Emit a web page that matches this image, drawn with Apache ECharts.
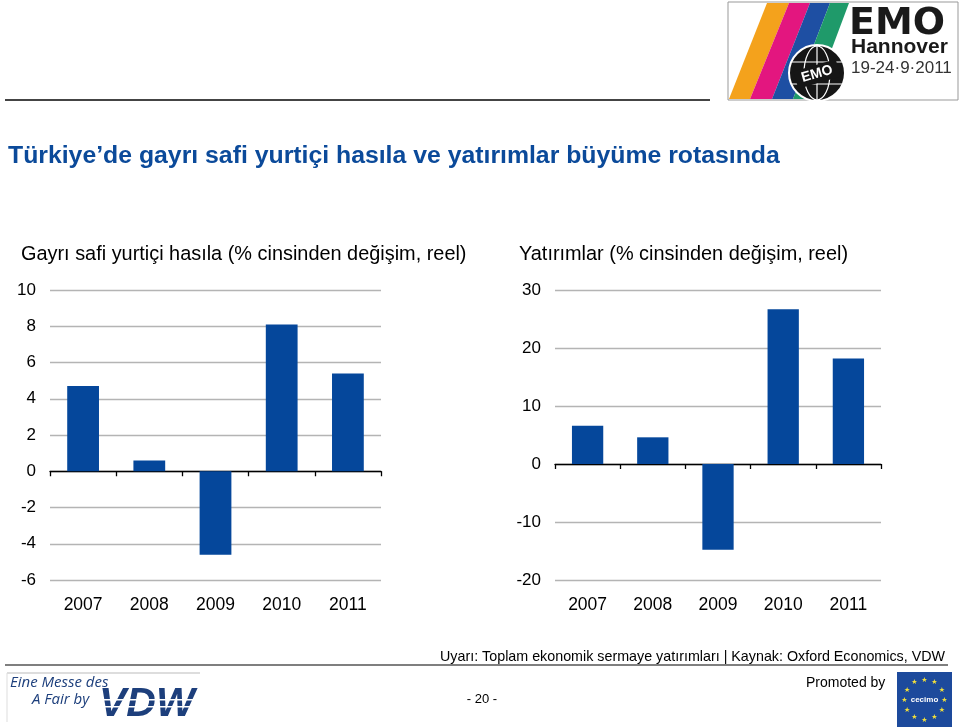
<!DOCTYPE html>
<html>
<head>
<meta charset="utf-8">
<script src="https://cdn.jsdelivr.net/npm/echarts@6/dist/echarts.min.js"></script>
<style>
html,body{margin:0;padding:0;background:#fff;}
#chart{width:960px;height:727px;}
</style>
</head>
<body>
<div id="chart"></div>
<script>
// ---- Data ----
const years = ['2007', '2008', '2009', '2010', '2011'];
const gdpGrowth = [4.7, 0.6, -4.6, 8.1, 5.4];
const investmentGrowth = [6.6, 4.6, -14.8, 26.7, 18.2];
const gdpAxis = { min: -6, max: 10, interval: 2 };
const invAxis = { min: -20, max: 30, interval: 10 };

const titleText = 'Türkiye’de gayrı safi yurtiçi hasıla ve yatırımlar büyüme rotasında';
const gdpTitle = 'Gayrı safi yurtiçi hasıla (% cinsinden değişim, reel)';
const invTitle = 'Yatırımlar (% cinsinden değişim, reel)';
const footNote = 'Uyarı: Toplam ekonomik sermaye yatırımları | Kaynak: Oxford Economics, VDW';

const FONT = '"Liberation Sans", Arial, sans-serif';
const BAR = '#05479B';
const BLUE_T = '#0B4A9A';

const chart = echarts.init(document.getElementById('chart'), null, { renderer: 'canvas' });

function yAxisCfg(ax, gridIndex) {
  return {
    type: 'value', gridIndex, min: ax.min, max: ax.max, interval: ax.interval,
    axisLine: { show: false }, axisTick: { show: false },
    axisLabel: { color: '#000', fontSize: 17, fontFamily: FONT, margin: 14 },
    splitLine: { lineStyle: { color: '#b4b4b4', width: 1.3 } }
  };
}
function xZeroAxis(gridIndex) {
  return {
    type: 'category', gridIndex, data: years,
    axisLine: { onZero: true, lineStyle: { color: '#000', width: 1.3 } },
    axisTick: { show: true, length: 5, lineStyle: { color: '#000', width: 1.3 } },
    axisLabel: { show: false }
  };
}
function xLabelAxis(gridIndex) {
  return {
    type: 'category', gridIndex, data: years, position: 'bottom',
    axisLine: { show: false, onZero: false }, axisTick: { show: false },
    axisLabel: { color: '#000', fontSize: 17.5, fontFamily: FONT, margin: 16 }
  };
}

// star ring for cecimo logo
const stars = [];
for (let i = 0; i < 12; i++) {
  const a = i / 12 * Math.PI * 2;
  stars.push({
    type: 'text', x: 924.5 + 20 * Math.cos(a), y: 700 + 20 * Math.sin(a),
    style: { text: '★', fill: '#f3e03a', font: '7px "DejaVu Sans"', align: 'center', verticalAlign: 'middle' }
  });
}

const option = {
  backgroundColor: '#fff',
  animation: false,
  grid: [
    { left: 50, right: 579, top: 290, bottom: 147 },
    { left: 555, right: 79, top: 290, bottom: 147 }
  ],
  xAxis: [xZeroAxis(0), xLabelAxis(0), xZeroAxis(1), xLabelAxis(1)],
  yAxis: [yAxisCfg(gdpAxis, 0), yAxisCfg(invAxis, 1)],
  series: [
    { type: 'bar', xAxisIndex: 0, yAxisIndex: 0, data: gdpGrowth, barWidth: '48%', itemStyle: { color: BAR } },
    { type: 'bar', xAxisIndex: 2, yAxisIndex: 1, data: investmentGrowth, barWidth: '48%', itemStyle: { color: BAR } }
  ],
  graphic: [
    // top rule
    { type: 'line', shape: { x1: 5, y1: 100, x2: 710, y2: 100 }, style: { stroke: '#444', lineWidth: 2 } },
    // title
    { type: 'text', x: 8, y: 156, style: { text: titleText, fill: BLUE_T, font: 'bold 24.8px ' + FONT, verticalAlign: 'middle' } },
    { type: 'text', x: 21, y: 255, style: { text: gdpTitle, fill: '#000', font: '19.9px ' + FONT, verticalAlign: 'middle' } },
    { type: 'text', x: 519, y: 255, style: { text: invTitle, fill: '#000', font: '19.9px ' + FONT, verticalAlign: 'middle' } },
    // footer
    { type: 'text', x: 440, y: 657, style: { text: footNote, fill: '#000', font: '14.3px ' + FONT, verticalAlign: 'middle' } },
    { type: 'line', shape: { x1: 5, y1: 665, x2: 948, y2: 665 }, style: { stroke: '#555', lineWidth: 1.5 } },
    { type: 'text', x: 806, y: 683, style: { text: 'Promoted by', fill: '#000', font: '14px ' + FONT, verticalAlign: 'middle' } },
    { type: 'text', x: 482, y: 699, style: { text: '- 20 -', fill: '#000', font: '13px ' + FONT, align: 'center', verticalAlign: 'middle' } },
    // VDW logo
    { type: 'line', shape: { x1: 7, y1: 673, x2: 200, y2: 673 }, style: { stroke: '#bbb', lineWidth: 1 } },
    { type: 'line', shape: { x1: 7, y1: 673, x2: 7, y2: 722 }, style: { stroke: '#ddd', lineWidth: 1 } },
    { type: 'text', x: 10, y: 683, style: { text: 'Eine Messe des', fill: '#1d3f7c', font: 'italic 15px "Open Sans", ' + FONT, verticalAlign: 'middle' } },
    { type: 'text', x: 32, y: 700, style: { text: 'A Fair by', fill: '#1d3f7c', font: 'italic 15px "Open Sans", ' + FONT, verticalAlign: 'middle' } },
    { type: 'text', x: 99, y: 705, style: { text: 'VDW', fill: '#1d3f7c', font: 'italic 900 41px ' + FONT, verticalAlign: 'middle' } },
    { type: 'rect', shape: { x: 98, y: 699, width: 104, height: 1.5 }, style: { fill: '#fff' } },
    { type: 'rect', shape: { x: 98, y: 706, width: 104, height: 1.5 }, style: { fill: '#fff' } },
    // cecimo logo
    { type: 'rect', shape: { x: 897, y: 672, width: 55, height: 55 }, style: { fill: '#1d4a9c' } },
    ...stars,
    { type: 'text', x: 924.5, y: 700, style: { text: 'cecimo', fill: '#fff', font: 'bold 8px ' + FONT, align: 'center', verticalAlign: 'middle' } },
    // EMO logo
    { type: 'rect', shape: { x: 728, y: 2, width: 230, height: 98 }, style: { fill: '#fff', stroke: '#999', lineWidth: 1 } },
    { type: 'polygon', shape: { points: [[767, 3], [789, 3], [750, 99], [729, 99]] }, style: { fill: '#f4a21c' } },
    { type: 'polygon', shape: { points: [[789, 3], [810, 3], [772, 99], [750, 99]] }, style: { fill: '#e3167f' } },
    { type: 'polygon', shape: { points: [[810, 3], [830, 3], [793, 99], [772, 99]] }, style: { fill: '#1e4fa3' } },
    { type: 'polygon', shape: { points: [[830, 3], [849, 3], [813, 99], [793, 99]] }, style: { fill: '#1f9a6a' } },
    { type: 'circle', shape: { cx: 817, cy: 73, r: 28 }, style: { fill: '#161616', stroke: '#fff', lineWidth: 2 } },
    { type: 'ellipse', shape: { cx: 817, cy: 73, rx: 13, ry: 27 }, style: { fill: 'none', stroke: '#fff', lineWidth: 1.2 } },
    { type: 'line', shape: { x1: 817, y1: 46, x2: 817, y2: 100 }, style: { stroke: '#fff', lineWidth: 1.2 } },
    { type: 'line', shape: { x1: 792, y1: 62, x2: 842, y2: 62 }, style: { stroke: '#fff', lineWidth: 1.2 } },
    { type: 'line', shape: { x1: 792, y1: 84, x2: 842, y2: 84 }, style: { stroke: '#fff', lineWidth: 1.2 } },
    { type: 'rect', x: 817, y: 74, rotation: 0.28, shape: { x: -22, y: -9, width: 44, height: 18 }, style: { fill: '#161616' } },
    { type: 'text', x: 817, y: 74, rotation: 0.28, style: { text: 'EMO', fill: '#fff', font: 'bold 14px ' + FONT, align: 'center', verticalAlign: 'middle' } },
    { type: 'text', x: 849, y: 24, style: { text: 'EMO', fill: '#1a1a1a', font: 'bold 38px "DejaVu Sans"', verticalAlign: 'middle' } },
    { type: 'text', x: 851, y: 47, style: { text: 'Hannover', fill: '#1a1a1a', font: 'bold 21px ' + FONT, verticalAlign: 'middle' } },
    { type: 'text', x: 851, y: 68, style: { text: '19-24·9·2011', fill: '#333', font: '17px ' + FONT, verticalAlign: 'middle' } }
  ]
};
chart.setOption(option);
</script>
</body>
</html>
